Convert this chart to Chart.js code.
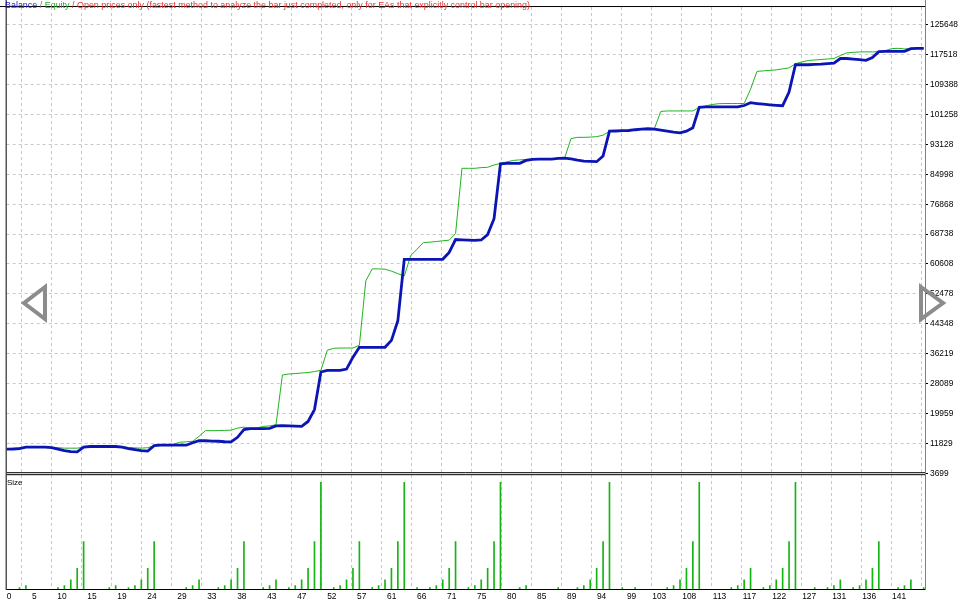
<!DOCTYPE html>
<html>
<head>
<meta charset="utf-8">
<script src="https://cdn.jsdelivr.net/npm/chart.js@4.4.1/dist/chart.umd.min.js"></script>
<style>
  html, body { margin: 0; padding: 0; background: #fff; }
  #wrap { position: relative; width: 967px; height: 603px; overflow: hidden; }
  #chart { position: absolute; left: 0; top: 0; }
  .txt { position: absolute; font-family: "Liberation Sans", Arial, sans-serif; font-size: 8px; line-height: 9px; white-space: nowrap; }
  #title { font-size: 9.5px; line-height: 10px; transform-origin: 0 0; }
</style>
</head>
<body>
<div id="wrap">
  <canvas id="chart" width="967" height="603"></canvas>
  <div class="txt" id="title" style="left:5px;top:-0.5px"><span style="color:#1b1bc8">Balance</span><span style="color:#777"> / </span><span style="color:#21b021">Equity</span><span style="color:#f03030"> / Open prices only (fastest method to analyze the bar just completed, only for EAs that explicitly control bar opening)</span></div>
  <div class="txt" style="left:7px;top:478px;color:#000">Size</div>
</div>
<script>
// one value per closed trade
const balance = [
  10240, 10240, 10370, 10770, 10770, 10770, 10770, 10640, 10240, 9830,
  9560, 9510, 10770, 10960, 10960, 10960, 10960, 10960, 10770, 10370,
  10100, 9830, 9700, 11180, 11310, 11310, 11310, 11310, 11310, 11980,
  12520, 12520, 12450, 12390, 12250, 12200, 13460, 15540, 15800, 15800,
  15800, 15890, 16560, 16610, 16560, 16500, 16420, 17770, 21000, 31220,
  31680, 31680, 31680, 32030, 35250, 37940, 37940, 37940, 37940, 37940,
  39830, 45210, 61880, 61880, 61880, 61880, 61880, 61880, 61880, 63770,
  67260, 67180, 67080, 67000, 67130, 68610, 72910, 87840, 87980, 87980,
  87980, 88780, 89050, 89130, 89130, 89130, 89320, 89400, 89190, 88860,
  88600, 88520, 88430, 89990, 96720, 96770, 96850, 96910, 97120, 97260,
  97390, 97260, 96990, 96720, 96450, 96260, 96720, 97660, 103180, 103310,
  103310, 103310, 103310, 103310, 103310, 103710, 104470, 104250, 104060, 103900,
  103770, 103660, 107350, 114800, 114800, 114800, 114880, 114960, 115090, 115230,
  116490, 116490, 116330, 116170, 116010, 116760, 118370, 118450, 118450, 118450,
  118450, 119180, 119260, 119260
];
const equity = [
  10370, 10510, 10640, 10770, 10770, 10770, 10770, 10770, 10640, 10510,
  10510, 10510, 10770, 10960, 10960, 10960, 10960, 10960, 10910, 10690,
  10590, 10510, 10640, 11180, 11310, 11310, 11580, 12120, 12250, 12390,
  13730, 15270, 15270, 15290, 15350, 15400, 15970, 16230, 15970, 15970,
  16420, 16560, 16880, 30410, 30680, 30810, 30950, 31080, 31350, 31680,
  37140, 37670, 37750, 37750, 37750, 38480, 56000, 59270, 59270, 59190,
  58650, 57980, 57310, 62880, 64650, 66460, 66540, 66720, 66910, 67080,
  68880, 86630, 86630, 86630, 86820, 86900, 87520, 87980, 88380, 88780,
  88920, 89050, 89130, 89130, 89130, 89130, 89320, 89400, 94700, 95050,
  95050, 95110, 95240, 95640, 96720, 96770, 96850, 96910, 97120, 97260,
  97390, 97390, 102100, 102230, 102230, 102230, 102230, 102230, 103230, 103580,
  103980, 104200, 104250, 104250, 104250, 104250, 108150, 112990, 113130, 113260,
  113400, 113670, 113940, 115070, 115550, 115950, 116090, 116220, 116360, 116490,
  117300, 118020, 118160, 118290, 118290, 118290, 118370, 118640, 119180, 119260,
  119100, 119180, 119260, 119260
];
const size = [
  0, 0, 0.01, 0.02, 0, 0, 0, 0, 0.01, 0.02,
  0.05, 0.11, 0.25, 0, 0, 0, 0.01, 0.02, 0, 0.01,
  0.02, 0.05, 0.11, 0.25, 0, 0, 0, 0, 0.01, 0.02,
  0.05, 0, 0, 0.01, 0.02, 0.05, 0.11, 0.25, 0, 0,
  0.01, 0.02, 0.05, 0, 0.01, 0.02, 0.05, 0.11, 0.25, 0.56,
  0, 0.01, 0.02, 0.05, 0.11, 0.25, 0, 0.01, 0.02, 0.05,
  0.11, 0.25, 0.56, 0, 0.01, 0, 0.01, 0.02, 0.05, 0.11,
  0.25, 0, 0.01, 0.02, 0.05, 0.11, 0.25, 0.56, 0, 0,
  0.01, 0.02, 0, 0, 0, 0, 0.01, 0, 0, 0.01,
  0.02, 0.05, 0.11, 0.25, 0.56, 0, 0.01, 0, 0.01, 0,
  0, 0, 0, 0.01, 0.02, 0.05, 0.11, 0.25, 0.56, 0,
  0, 0, 0, 0.01, 0.02, 0.05, 0.11, 0, 0.01, 0.02,
  0.05, 0.11, 0.25, 0.56, 0, 0, 0.01, 0, 0.01, 0.02,
  0.05, 0, 0.01, 0.02, 0.05, 0.11, 0.25, 0, 0, 0.01,
  0.02, 0.05, 0, 0.01
];
const xTickLabels = ['0', '5', '10', '15', '19', '24', '29', '33', '38', '43', '47', '52', '57', '61', '66', '71',
  '75', '80', '85', '89', '94', '99', '103', '108', '113', '117', '122', '127', '131', '136', '141'];
const yTickLabels = ['3699', '11829', '19959', '28089', '36219', '44348', '52478', '60608', '68738', '76868',
  '84998', '93128', '101258', '109388', '117518', '125648'];

const xStep = 4.675;                       // trades between vertical grid lines
const yLow = 3699, yStep = (125648 - 3699) / 15;
const gridColor = '#c8c8c8';
const tickFont = { family: 'Liberation Sans', size: 8.4 };

// the "0" label sits right of its grid line, the others left of it
const zeroLabel = {
  id: 'zeroLabel',
  beforeDraw(chart) {
    const items = chart.scales.x.getLabelItems();
    if (items.length) items[0].options.textAlign = 'left';
  }
};

const frame = {
  id: 'frame',
  afterDraw(chart) {
    const c = chart.ctx, a = chart.chartArea;
    const mainBottom = chart.scales.y.bottom, sizeTop = chart.scales.ys.top;
    c.save();
    c.lineWidth = 1;
    c.strokeStyle = '#000';
    c.beginPath();
    c.moveTo(0, a.top - 0.5); c.lineTo(a.right, a.top - 0.5);
    c.moveTo(a.left - 0.5, 0); c.lineTo(a.left - 0.5, a.bottom + 0.5);
    c.moveTo(a.left, mainBottom - 0.5); c.lineTo(a.right, mainBottom - 0.5);
    c.moveTo(a.left, sizeTop); c.lineTo(a.right, sizeTop);
    c.moveTo(a.left, a.bottom); c.lineTo(a.right, a.bottom);
    c.stroke();
    c.strokeStyle = '#808080';
    c.beginPath();
    c.moveTo(a.right + 0.5, 0); c.lineTo(a.right + 0.5, a.bottom + 0.5);
    c.stroke();
    c.restore();
  }
};

// the grey page arrows laid over the screenshot
const arrows = {
  id: 'arrows',
  afterDraw(chart) {
    const c = chart.ctx;
    c.save();
    c.strokeStyle = '#8c8c8c';
    c.lineWidth = 4;
    c.lineJoin = 'miter';
    c.beginPath();
    c.moveTo(45, 287); c.lineTo(24, 303); c.lineTo(45, 319); c.closePath();
    c.moveTo(921, 287); c.lineTo(943, 303); c.lineTo(921, 319); c.closePath();
    c.stroke();
    c.restore();
  }
};

new Chart(document.getElementById('chart'), {
  type: 'line',
  data: {
    datasets: [
      {
        label: 'Balance',
        data: balance.map((v, i) => ({ x: i, y: v })),
        borderColor: '#0b15b5',
        borderWidth: 2.8,
        pointRadius: 0,
        yAxisID: 'y'
      },
      {
        label: 'Equity',
        data: equity.map((v, i) => ({ x: i, y: v })),
        borderColor: '#1eb41e',
        borderWidth: 1,
        pointRadius: 0,
        yAxisID: 'y'
      },
      {
        type: 'bar',
        label: 'Size',
        data: size.map((v, i) => ({ x: i, y: v })).filter(p => p.y > 0),
        backgroundColor: '#14b414',
        borderWidth: 0,
        barThickness: 1,
        yAxisID: 'ys'
      }
    ]
  },
  options: {
    responsive: false,
    animation: false,
    events: [],
    layout: { padding: { left: 3, top: 1, right: 0, bottom: 0 } },
    plugins: { legend: { display: false }, tooltip: { enabled: false } },
    scales: {
      x: {
        type: 'linear', min: 0, max: 143.2, offset: false, bounds: 'data',
        afterBuildTicks: s => { s.ticks = xTickLabels.map((_, i) => ({ value: i * xStep })); },
        afterFit: s => { s.height = 13.5; },
        ticks: {
          autoSkip: false, maxRotation: 0, align: 'end', padding: 2, color: '#000', font: tickFont,
          callback: (v, i) => xTickLabels[i]
        },
        grid: { color: ctx => ctx.index === 0 ? 'rgba(0,0,0,0)' : gridColor, drawTicks: false, borderDash: [3, 3] },
        border: { display: false, dash: [3, 3] }
      },
      y: {
        type: 'linear', position: 'right', stack: 'panes', stackWeight: 471,
        min: yLow, max: 130490, bounds: 'data',
        afterBuildTicks: s => { s.ticks = yTickLabels.map((_, i) => ({ value: yLow + i * yStep })); },
        afterFit: s => { s.width = 42; },
        ticks: { color: '#000', padding: 2, font: tickFont, callback: (v, i) => yTickLabels[i] },
        grid: {
          color: ctx => ctx.index === 0 ? 'rgba(0,0,0,0)' : gridColor,
          tickColor: '#000', tickLength: 3, tickBorderDash: [], borderDash: [3, 3]
        },
        border: { display: false, dash: [3, 3] }
      },
      gap: { type: 'linear', position: 'right', stack: 'panes', stackWeight: 1.5, display: false },
      ys: { type: 'linear', position: 'right', stack: 'panes', stackWeight: 116, min: 0, max: 0.6, display: false }
    }
  },
  plugins: [zeroLabel, frame, arrows]
});

// squeeze the header line to the width it takes in the tester window
const title = document.getElementById('title');
title.style.transform = 'scaleX(' + (525 / title.getBoundingClientRect().width) + ')';
</script>
</body>
</html>
